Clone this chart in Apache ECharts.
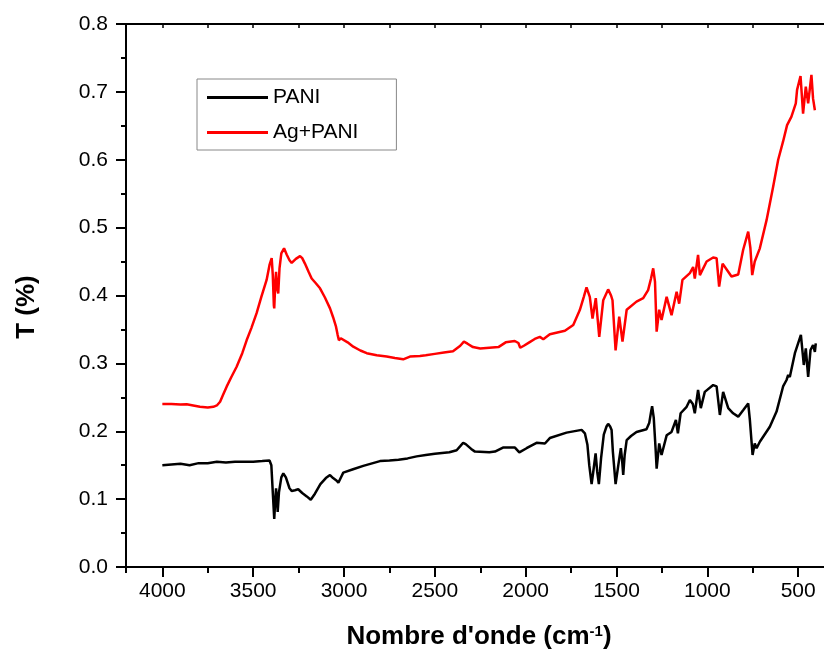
<!DOCTYPE html>
<html lang="fr">
<head>
  <meta charset="UTF-8">
  <script src="https://cdn.jsdelivr.net/npm/echarts@6.0.0/dist/echarts.min.js"></script>
  <style>
    html, body { margin: 0; padding: 0; background: #fff; }
    #container { width: 824px; height: 657px; }
  </style>
</head>
<body>
  <div id="container"></div>
  <script>
    // PANI
    var paniWn = [4000, 3950, 3900, 3850, 3800, 3750, 3700, 3650, 3600, 3550, 3500, 3450, 3410, 3400, 3392, 3384, 3378, 3374, 3369, 3365, 3358, 3345, 3334, 3320, 3300, 3288, 3270, 3252, 3230, 3205, 3183, 3160, 3130, 3100, 3077, 3060, 3050, 3040, 3031, 3015, 3004, 2950, 2894, 2802, 2750, 2700, 2650, 2600, 2550, 2500, 2420, 2380, 2360, 2344, 2330, 2300, 2279, 2200, 2169, 2125, 2059, 2035, 1995, 1940, 1894, 1867, 1775, 1692, 1674, 1660, 1650, 1637, 1628, 1615, 1606, 1597, 1585, 1570, 1555, 1546, 1535, 1527, 1520, 1505, 1490, 1476, 1470, 1463, 1455, 1444, 1420, 1390, 1335, 1320, 1310, 1304, 1295, 1285, 1279, 1265, 1252, 1224, 1197, 1173, 1162, 1147, 1114, 1096, 1080, 1069, 1051, 1036, 1014, 968, 949, 931, 913, 885, 858, 830, 803, 775, 766, 751, 739, 729, 711, 656, 619, 583, 564, 555, 546, 518, 485, 469, 458, 445, 432, 418, 408, 403];
    var paniT = [0.150, 0.151, 0.152, 0.150, 0.153, 0.153, 0.155, 0.154, 0.155, 0.155, 0.155, 0.156, 0.157, 0.150, 0.110, 0.071, 0.100, 0.116, 0.100, 0.081, 0.110, 0.132, 0.138, 0.132, 0.116, 0.112, 0.113, 0.1145, 0.109, 0.104, 0.099, 0.108, 0.122, 0.131, 0.1355, 0.131, 0.129, 0.127, 0.124, 0.133, 0.139, 0.144, 0.149, 0.156, 0.157, 0.158, 0.160, 0.163, 0.165, 0.167, 0.169, 0.172, 0.178, 0.183, 0.181, 0.174, 0.170, 0.169, 0.170, 0.176, 0.176, 0.169, 0.175, 0.183, 0.182, 0.190, 0.198, 0.202, 0.197, 0.180, 0.150, 0.122, 0.140, 0.1675, 0.140, 0.122, 0.160, 0.195, 0.207, 0.211, 0.207, 0.202, 0.170, 0.122, 0.150, 0.175, 0.160, 0.1355, 0.165, 0.187, 0.193, 0.199, 0.203, 0.212, 0.228, 0.237, 0.220, 0.175, 0.145, 0.182, 0.165, 0.194, 0.199, 0.2166, 0.197, 0.2265, 0.236, 0.246, 0.240, 0.2265, 0.261, 0.234, 0.258, 0.268, 0.266, 0.224, 0.258, 0.234, 0.2265, 0.2215, 0.231, 0.241, 0.217, 0.165, 0.182, 0.175, 0.1846, 0.2067, 0.229, 0.266, 0.2755, 0.283, 0.280, 0.315, 0.342, 0.2976, 0.322, 0.280, 0.3197, 0.327, 0.317, 0.3296];

    // Ag+PANI
    var agWn = [4000, 3950, 3900, 3866, 3830, 3793, 3750, 3719, 3700, 3682, 3665, 3646, 3620, 3591, 3560, 3536, 3510, 3481, 3455, 3426, 3410, 3398, 3392, 3386, 3384, 3378, 3374, 3368, 3362, 3355, 3345, 3330, 3315, 3300, 3288, 3265, 3242, 3230, 3215, 3195, 3178, 3155, 3132, 3105, 3077, 3060, 3044, 3035, 3028, 3018, 3007, 2980, 2949, 2910, 2875, 2820, 2765, 2720, 2674, 2637, 2582, 2550, 2500, 2450, 2400, 2360, 2340, 2320, 2290, 2250, 2200, 2150, 2110, 2060, 2040, 2030, 2010, 1980, 1950, 1922, 1903, 1867, 1784, 1738, 1702, 1680, 1665, 1647, 1632, 1614, 1595, 1573, 1546, 1530, 1522, 1505, 1485, 1467, 1444, 1390, 1353, 1326, 1310, 1298, 1288, 1279, 1265, 1252, 1224, 1197, 1169, 1155, 1137, 1096, 1078, 1069, 1051, 1041, 1004, 968, 949, 935, 916, 885, 867, 830, 803, 775, 763, 753, 739, 711, 674, 638, 610, 583, 561, 537, 513, 506, 487, 473, 458, 445, 427, 418, 408];
    var agT = [0.240, 0.240, 0.2395, 0.2397, 0.238, 0.236, 0.235, 0.236, 0.238, 0.2435, 0.254, 0.2657, 0.280, 0.295, 0.315, 0.334, 0.352, 0.374, 0.398, 0.423, 0.445, 0.455, 0.430, 0.385, 0.381, 0.420, 0.435, 0.410, 0.403, 0.440, 0.462, 0.4695, 0.460, 0.452, 0.448, 0.454, 0.458, 0.455, 0.447, 0.435, 0.425, 0.418, 0.4106, 0.397, 0.381, 0.368, 0.354, 0.342, 0.334, 0.337, 0.338, 0.331, 0.3246, 0.319, 0.315, 0.312, 0.310, 0.308, 0.306, 0.310, 0.311, 0.312, 0.314, 0.316, 0.318, 0.326, 0.332, 0.329, 0.324, 0.322, 0.323, 0.324, 0.331, 0.333, 0.330, 0.323, 0.326, 0.331, 0.336, 0.339, 0.3355, 0.343, 0.348, 0.3565, 0.3786, 0.398, 0.412, 0.398, 0.366, 0.396, 0.339, 0.393, 0.409, 0.400, 0.393, 0.319, 0.369, 0.332, 0.379, 0.391, 0.396, 0.408, 0.425, 0.440, 0.420, 0.3467, 0.379, 0.364, 0.398, 0.371, 0.4056, 0.388, 0.423, 0.433, 0.442, 0.425, 0.4597, 0.430, 0.450, 0.456, 0.455, 0.413, 0.447, 0.435, 0.428, 0.431, 0.467, 0.494, 0.470, 0.430, 0.450, 0.4695, 0.511, 0.560, 0.600, 0.627, 0.651, 0.6635, 0.683, 0.703, 0.7234, 0.668, 0.7076, 0.683, 0.725, 0.690, 0.673];

    function pairs(wn, t) {
      var res = [];
      for (var i = 0; i < wn.length; i++) {
        res.push([wn[i], t[i]]);
      }
      return res;
    }

    var font = "'Liberation Sans', Arial, sans-serif";
    var black = { color: '#000', width: 2 };
    var myChart = echarts.init(document.getElementById('container'));

    // x axes share the same extent; 0 lies off the right edge of the picture
    function xAxisBase(extra) {
      var a = {
        type: 'value', inverse: true, min: 0, max: 4200,
        splitLine: { show: false }
      };
      for (var k in extra) a[k] = extra[k];
      return a;
    }

    var option = {
      animation: false,
      textStyle: { fontFamily: font },
      grid: { left: 126, top: 24, width: 763, height: 543, outerBoundsMode: 'none', containLabel: false },
      legend: {
        left: 197,
        top: 79,
        orient: 'vertical',
        icon: 'rect',
        itemWidth: 61,
        itemHeight: 3,
        itemGap: 12,
        padding: [7, 38, 6, 10],
        borderColor: '#888',
        borderWidth: 1,
        textStyle: { fontSize: 21, lineHeight: 23, color: '#000', fontFamily: font },
        data: ['PANI', 'Ag+PANI']
      },
      xAxis: [
        xAxisBase({
          interval: 500, position: 'bottom',
          axisLine: { onZero: false, lineStyle: black },
          axisTick: { show: true, inside: false, length: 10, lineStyle: black },
          axisLabel: {
            margin: 14, fontSize: 21, color: '#000', fontFamily: font,
            showMaxLabel: false,
            formatter: function (v) { return v > 4000 ? '' : String(v); }
          }
        }),
        xAxisBase({
          interval: 250, position: 'bottom',
          axisLine: { show: false, onZero: false },
          axisTick: { show: true, inside: false, length: 6, lineStyle: black },
          axisLabel: { show: false }
        }),
        xAxisBase({
          interval: 250, position: 'top',
          axisLine: { onZero: false, lineStyle: black },
          axisTick: { show: true, inside: true, length: 4, lineStyle: { color: '#000', width: 1.5 } },
          axisLabel: { show: false }
        })
      ],
      yAxis: [
        {
          type: 'value', min: 0, max: 0.8, interval: 0.1,
          position: 'left',
          axisLine: { show: true, onZero: false, lineStyle: black },
          axisTick: { show: true, length: 10, lineStyle: black },
          axisLabel: {
            margin: 18, fontSize: 21, color: '#000', fontFamily: font,
            formatter: function (v) { return v.toFixed(1); }
          },
          splitLine: { show: false }
        },
        {
          type: 'value', min: 0, max: 0.8, interval: 0.05,
          position: 'left',
          axisLine: { show: false, onZero: false },
          axisTick: { show: true, length: 5, lineStyle: black },
          axisLabel: { show: false },
          splitLine: { show: false }
        }
      ],
      graphic: [
        {
          type: 'text',
          x: 479, y: 637,
          style: {
            text: "{a|Nombre d'onde (cm}{s|-1}{a|)}",
            align: 'center',
            verticalAlign: 'middle',
            fill: '#000',
            rich: {
              a: { fontSize: 26, fontWeight: 'bold', fontFamily: font, fill: '#000' },
              s: { fontSize: 15, fontWeight: 'bold', fontFamily: font, fill: '#000', verticalAlign: 'top' }
            }
          }
        },
        {
          type: 'text',
          x: 27, y: 307,
          rotation: Math.PI / 2,
          style: {
            text: 'T (%)',
            align: 'center',
            verticalAlign: 'middle',
            fontSize: 26,
            fontWeight: 'bold',
            fontFamily: font,
            fill: '#000'
          }
        }
      ],
      series: [
        {
          name: 'PANI', type: 'line', xAxisIndex: 0, yAxisIndex: 0,
          data: pairs(paniWn, paniT),
          symbol: 'none',
          lineStyle: { color: '#000', width: 2.5 },
          itemStyle: { color: '#000' }
        },
        {
          name: 'Ag+PANI', type: 'line', xAxisIndex: 0, yAxisIndex: 0,
          data: pairs(agWn, agT),
          symbol: 'none',
          lineStyle: { color: '#ff0000', width: 2.5 },
          itemStyle: { color: '#ff0000' }
        }
      ]
    };

    myChart.setOption(option);
  </script>
</body>
</html>
